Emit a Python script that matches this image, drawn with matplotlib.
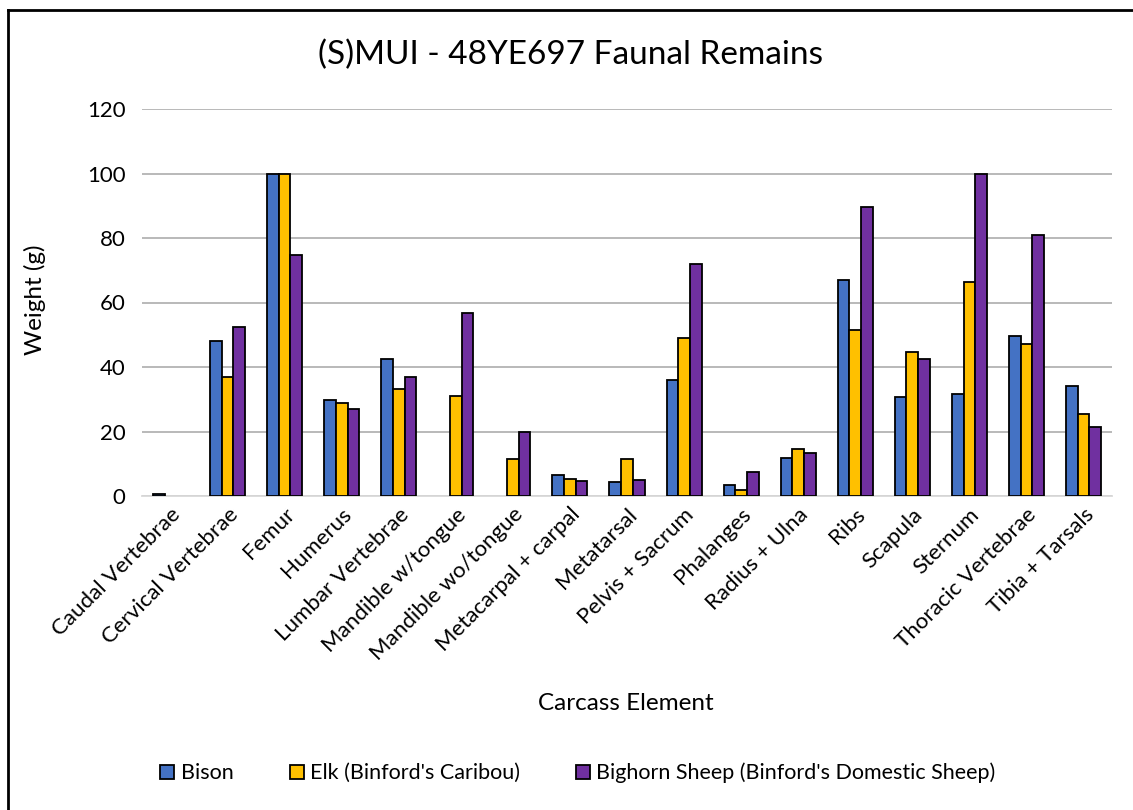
import numpy as np
import matplotlib.pyplot as plt
from matplotlib.lines import Line2D

plt.rcParams['font.family'] = ['Lato', 'DejaVu Sans']

# Datos
elements = ["Caudal Vertebrae", "Cervical Vertebrae", "Femur", "Humerus",
            "Lumbar Vertebrae", "Mandible w/tongue", "Mandible wo/tongue",
            "Metacarpal + carpal", "Metatarsal", "Pelvis + Sacrum", "Phalanges",
            "Radius + Ulna", "Ribs", "Scapula", "Sternum", "Thoracic Vertebrae",
            "Tibia + Tarsals"]
bison = [0.7, 48.2, 100, 29.7, 42.5, 0, 0, 6.5, 4.2, 36.0, 3.3, 11.7, 66.9, 30.6, 31.6, 49.7, 34.0]
elk = [0, 36.9, 100, 28.9, 33.1, 31.1, 11.5, 5.3, 11.4, 49.1, 1.8, 14.7, 51.4, 44.7, 66.3, 47.2, 25.5]
sheep = [0, 52.4, 74.7, 27.1, 36.8, 56.8, 19.7, 4.6, 5.1, 71.9, 7.3, 13.2, 89.6, 42.5, 100, 81.0, 21.4]

series = [("Bison", bison, "#4472C4"),
          ("Elk (Binford's Caribou)", elk, "#FFC000"),
          ("Bighorn Sheep (Binford's Domestic Sheep)", sheep, "#7030A0")]

W, H = 1133, 810
fig = plt.figure(figsize=(W / 100, H / 100), dpi=100)
ax = fig.add_axes([142 / W, 1 - 496 / H, 970 / W, 387 / H])

x = np.arange(len(elements))
w = 0.205
for i, (name, vals, col) in enumerate(series):
    v = np.array(vals, dtype=float)
    v[v == 0] = np.nan  # las barras en cero no se dibujan
    ax.bar(x + (i - 1) * w, v, w, color=col, edgecolor="black", linewidth=1.3,
           label=name, zorder=3)

ax.set_xlim(-0.5, len(elements) - 0.5)
ax.set_ylim(0, 120)
ax.set_yticks(range(0, 121, 20))
ax.yaxis.grid(True, color="#b3b3b3", linewidth=1.3, zorder=0)
ax.tick_params(axis="y", length=0, labelsize=16, pad=12)
ax.tick_params(axis="x", length=0, labelsize=16, pad=6)
ax.set_xticks(x)
ax.set_xticklabels(elements, rotation=45, ha="right", rotation_mode="anchor")
for s in ["top", "right", "left"]:
    ax.spines[s].set_visible(False)
ax.spines["bottom"].set_color("#d9d9d9")
ax.spines["bottom"].set_linewidth(1.3)

fig.text(35 / W, 1 - 300 / H, "Weight (g)", fontsize=17.5, rotation=90,
         ha="center", va="center")
fig.text(626 / W, 1 - 703 / H, "Carcass Element", fontsize=17.5, ha="center", va="center")
fig.text(571 / W, 1 - 55 / H, "(S)MUI - 48YE697 Faunal Remains", fontsize=24,
         ha="center", va="center")

fig.legend(loc="center", bbox_to_anchor=(578 / W, 1 - 773 / H), ncol=3,
           frameon=False, fontsize=15.5, handlelength=0.65, handleheight=0.65,
           columnspacing=2.6, handletextpad=0.3)

# marco exterior (solo arriba e izquierda visibles)
fig.add_artist(Line2D([8 / W, 1], [1 - 10 / H, 1 - 10 / H], color="black", lw=2))
fig.add_artist(Line2D([8 / W, 8 / W], [0, 1 - 10 / H], color="black", lw=2))

fig.savefig("out.png", dpi=100)
